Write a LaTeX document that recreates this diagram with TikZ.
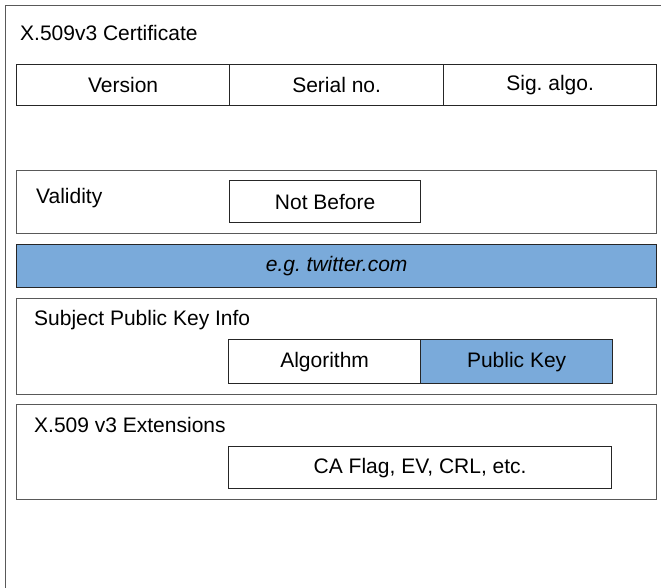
\documentclass[tikz,border=0pt]{standalone}
\usepackage{fontspec}
\setmainfont{Liberation Sans}
\definecolor{keyblue}{RGB}{122,170,218}
\frenchspacing

\begin{document}
\begin{tikzpicture}[x=1pt, y=-1pt,
  every node/.style={font=\fontsize{21}{25}\selectfont, inner sep=0pt, anchor=north west},
  frame/.style={rectangle, draw=black!65, line width=1.3pt},
  cell/.style={rectangle, draw=black!85, line width=1.3pt},
  label/.style={anchor=west}]
\useasboundingbox (0,0) rectangle (661,587);
\clip (0,0) rectangle (661,587);
\node[frame, minimum width=720, minimum height=660] (cert) at (5,4.5) {};
\node[label] (title) at (20,33) {X.509v3 Certificate};
\node[cell, minimum width=213, minimum height=41] (version) at (16,64) {Version};
\node[cell, minimum width=214, minimum height=41] (serial) at (229,64) {Serial no.};
\node[cell, minimum width=213, minimum height=41] (sigalgo) at (443,64) {Sig. algo.};
\node[frame, minimum width=640, minimum height=63] (validity) at (16,170) {};
\node[label] (validitylbl) at (36,198) {Validity};
\node[cell, minimum width=191, minimum height=42] (notbefore) at (229,180) {Not Before};
\node[cell, fill=keyblue, minimum width=640, minimum height=43] (subject) at (16,244) {\itshape e.g. twitter.com};
\node[frame, minimum width=640, minimum height=96] (spki) at (16,298) {};
\node[label] (spkilbl) at (34,320) {Subject Public Key Info};
\node[cell, minimum width=192, minimum height=44] (algo) at (228,339) {Algorithm};
\node[cell, fill=keyblue, minimum width=192, minimum height=44] (pubkey) at (420,339) {Public Key};
\node[frame, minimum width=640, minimum height=95] (ext) at (16,404) {};
\node[label] (extlbl) at (34,425) {X.509 v3 Extensions};
\node[cell, minimum width=383, minimum height=42] (flags) at (228,446) {CA Flag, EV, CRL, etc.};
\end{tikzpicture}
\end{document}
